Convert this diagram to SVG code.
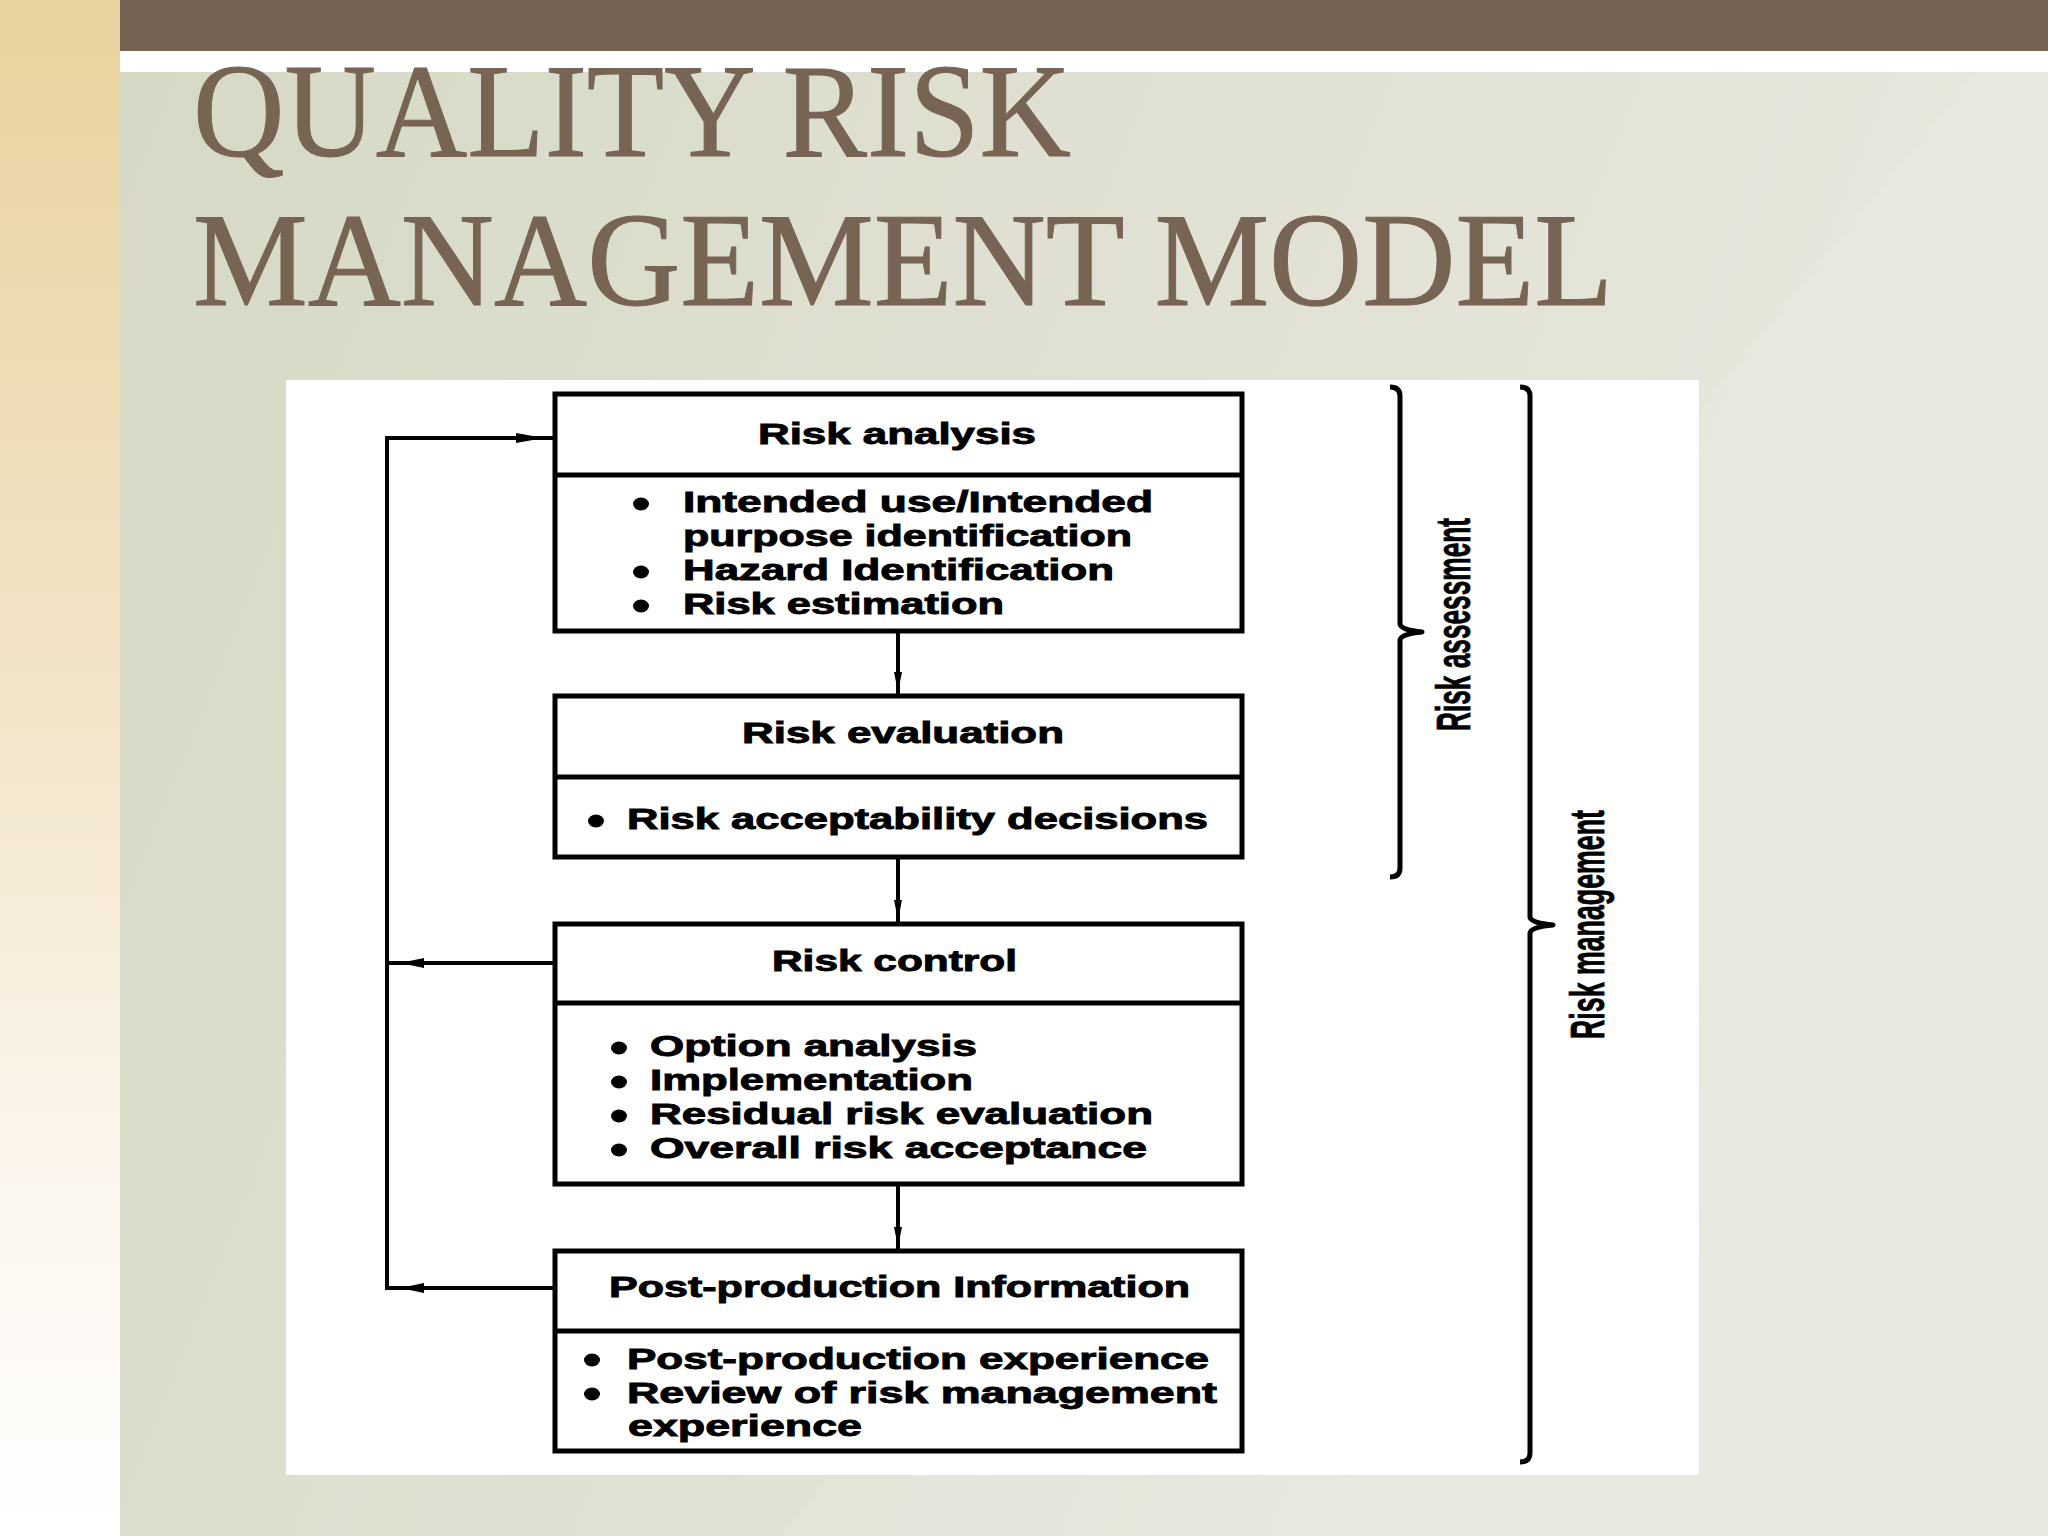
<svg xmlns="http://www.w3.org/2000/svg" width="2048" height="1536" viewBox="0 0 2048 1536">
  <defs>
    <linearGradient id="strip" x1="0" y1="0" x2="0" y2="1">
      <stop offset="0" stop-color="#e8d29e"/>
      <stop offset="0.45" stop-color="#f2e4c8"/>
      <stop offset="0.75" stop-color="#fbf5ec"/>
      <stop offset="1" stop-color="#ffffff"/>
    </linearGradient>
    <linearGradient id="bg" x1="0" y1="0" x2="1" y2="0.3">
      <stop offset="0" stop-color="#d5d8c4"/>
      <stop offset="0.5" stop-color="#dfe0d1"/>
      <stop offset="1" stop-color="#e8e8df"/>
    </linearGradient>
    <style>
      .title { font-family: "Liberation Serif", "Times New Roman", serif; font-size: 134px; fill: #786455; stroke: #786455; stroke-width: 1; }
      .box { fill: #ffffff; stroke: #000000; stroke-width: 5; }
      .div { stroke: #000000; stroke-width: 5; }
      .t { font-family: "Liberation Sans", Arial, sans-serif; font-weight: bold; font-size: 29px; fill: #000000; stroke: #000000; stroke-width: 0.9; }
      .rt { font-family: "Liberation Sans", Arial, sans-serif; font-weight: bold; font-size: 48px; fill: #000000; stroke: #000000; stroke-width: 0.8; }
      .line { fill: none; stroke: #000000; stroke-width: 4; }
      .brace { fill: none; stroke: #000000; stroke-width: 5; stroke-linejoin: round; }
      .ah { fill: #000000; }
      .dot { fill: #000000; }
    </style>
  </defs>

  <!-- background -->
  <rect x="0" y="0" width="2048" height="1536" fill="url(#bg)"/>
  <polygon points="1976,72 2048,72 2048,1536 780,1536" fill="#f2f1ec" opacity="0.2"/>
  <rect x="0" y="0" width="120" height="1536" fill="url(#strip)"/>
  <rect x="120" y="0" width="1928" height="51" fill="#776354"/>
  <rect x="120" y="51" width="1928" height="21" fill="#ffffff"/>

  <!-- title -->
  <g id="title">
    <text class="title" x="193" y="156" textLength="878" lengthAdjust="spacingAndGlyphs">QUALITY RISK</text>
    <text class="title" x="193" y="305" textLength="1420" lengthAdjust="spacingAndGlyphs">MANAGEMENT MODEL</text>
  </g>

  <!-- figure panel -->
  <rect x="286" y="380" width="1413" height="1095" fill="#ffffff"/>

  <!-- connectors -->
  <g id="connectors">
    <path class="line" d="M 898,632 V 694"/>
    <path class="ah" d="M 894,672 L 898,692 L 902,672 Z"/>
    <path class="line" d="M 898,858 V 922"/>
    <path class="ah" d="M 894,900 L 898,920 L 902,900 Z"/>
    <path class="line" d="M 898,1185 V 1249"/>
    <path class="ah" d="M 894,1227 L 898,1247 L 902,1227 Z"/>
    <path class="line" d="M 553,963 H 387"/>
    <path class="line" d="M 553,1288 H 387 V 438 H 553"/>
    <path class="ah" d="M 516,433 L 544,438 L 516,443 Z"/>
    <path class="ah" d="M 424,958 L 400,963 L 424,968 Z"/>
    <path class="ah" d="M 424,1283 L 400,1288 L 424,1293 Z"/>
  </g>

  <!-- nodes -->
  <g id="risk-analysis">
    <rect class="box" x="555" y="394" width="687" height="237"/>
    <line class="div" x1="555" y1="475" x2="1242" y2="475"/>
    <text class="t" x="758" y="444" textLength="278" lengthAdjust="spacingAndGlyphs">Risk analysis</text>
    <ellipse class="dot" cx="641" cy="504" rx="8" ry="6.5"/>
    <text class="t" x="683" y="512" textLength="470" lengthAdjust="spacingAndGlyphs">Intended use/Intended</text>
    <text class="t" x="683" y="546" textLength="449" lengthAdjust="spacingAndGlyphs">purpose identification</text>
    <ellipse class="dot" cx="641" cy="572" rx="8" ry="6.5"/>
    <text class="t" x="683" y="580" textLength="431" lengthAdjust="spacingAndGlyphs">Hazard Identification</text>
    <ellipse class="dot" cx="641" cy="606" rx="8" ry="6.5"/>
    <text class="t" x="683" y="614" textLength="321" lengthAdjust="spacingAndGlyphs">Risk estimation</text>
  </g>

  <g id="risk-evaluation">
    <rect class="box" x="555" y="696" width="687" height="161"/>
    <line class="div" x1="555" y1="777" x2="1242" y2="777"/>
    <text class="t" x="742" y="743" textLength="322" lengthAdjust="spacingAndGlyphs">Risk evaluation</text>
    <ellipse class="dot" cx="596" cy="821" rx="8" ry="6.5"/>
    <text class="t" x="627" y="829" textLength="581" lengthAdjust="spacingAndGlyphs">Risk acceptability decisions</text>
  </g>

  <g id="risk-control">
    <rect class="box" x="555" y="924" width="687" height="260"/>
    <line class="div" x1="555" y1="1003" x2="1242" y2="1003"/>
    <text class="t" x="772" y="971" textLength="245" lengthAdjust="spacingAndGlyphs">Risk control</text>
    <ellipse class="dot" cx="619" cy="1048" rx="8" ry="6.5"/>
    <text class="t" x="650" y="1056" textLength="327" lengthAdjust="spacingAndGlyphs">Option analysis</text>
    <ellipse class="dot" cx="619" cy="1082" rx="8" ry="6.5"/>
    <text class="t" x="650" y="1090" textLength="323" lengthAdjust="spacingAndGlyphs">Implementation</text>
    <ellipse class="dot" cx="619" cy="1116" rx="8" ry="6.5"/>
    <text class="t" x="650" y="1124" textLength="503" lengthAdjust="spacingAndGlyphs">Residual risk evaluation</text>
    <ellipse class="dot" cx="619" cy="1150" rx="8" ry="6.5"/>
    <text class="t" x="650" y="1158" textLength="497" lengthAdjust="spacingAndGlyphs">Overall risk acceptance</text>
  </g>

  <g id="post-production">
    <rect class="box" x="555" y="1251" width="687" height="200"/>
    <line class="div" x1="555" y1="1331" x2="1242" y2="1331"/>
    <text class="t" x="609" y="1297" textLength="581" lengthAdjust="spacingAndGlyphs">Post-production Information</text>
    <ellipse class="dot" cx="592" cy="1360" rx="8" ry="6.5"/>
    <text class="t" x="627" y="1369" textLength="582" lengthAdjust="spacingAndGlyphs">Post-production experience</text>
    <ellipse class="dot" cx="592" cy="1394" rx="8" ry="6.5"/>
    <text class="t" x="627" y="1403" textLength="590" lengthAdjust="spacingAndGlyphs">Review of risk management</text>
    <text class="t" x="628" y="1436" textLength="234" lengthAdjust="spacingAndGlyphs">experience</text>
  </g>

  <g id="risk-assessment-brace">
    <path class="brace" d="M 1390,387 Q 1400,387 1400,396 V 624 Q 1401,630 1422,632 Q 1401,634 1400,640 V 868 Q 1400,877 1390,877"/>
    <text class="rt" transform="translate(1470,731) rotate(-90)" x="0" y="0" textLength="213" lengthAdjust="spacingAndGlyphs">Risk assessment</text>
  </g>

  <g id="risk-management-brace">
    <path class="brace" d="M 1520,387 Q 1530,387 1530,396 V 917 Q 1531,923 1553,925 Q 1531,927 1530,933 V 1453 Q 1530,1462 1520,1462"/>
    <text class="rt" transform="translate(1604,1039) rotate(-90)" x="0" y="0" textLength="229" lengthAdjust="spacingAndGlyphs">Risk management</text>
  </g>
</svg>
